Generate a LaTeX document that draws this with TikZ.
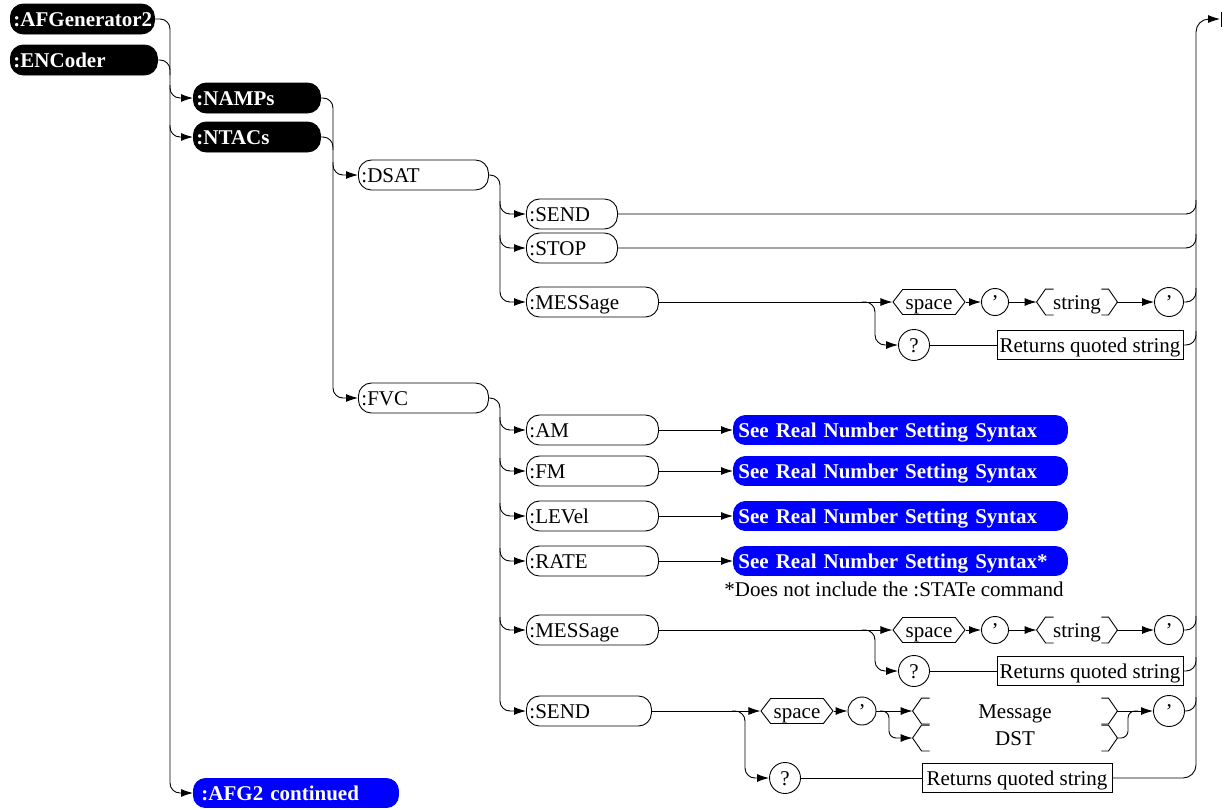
\documentclass[tikz,border=0pt]{standalone}
\usepackage{fontspec}
\setmainfont{Liberation Serif}
\usetikzlibrary{arrows.meta,shapes.symbols,calc}
\definecolor{pblue}{RGB}{0,0,255}
\AtBeginDocument{\hyphenpenalty=10000 \exhyphenpenalty=10000}
\newcommand{\bkt}[1]{%
  \draw ($(#1.north west)+(17,0)$) -- ($(#1.north west)+(9,0)$) -- (#1.west) -- ($(#1.south west)+(9,0)$) -- ($(#1.south west)+(17,0)$);
  \draw ($(#1.north east)+(-16,0)$) -- ($(#1.north east)+(-9,0)$) -- (#1.east) -- ($(#1.south east)+(-9,0)$) -- ($(#1.south east)+(-16,0)$);}
\begin{document}
\begin{tikzpicture}[x=1pt,y=-1pt,line width=0.9pt,
  every node/.style={font=\fontsize{21}{24}\selectfont, text height=17pt, text depth=3pt, inner ysep=0pt},
  cmd/.style={draw, rounded corners=13pt, minimum height=30pt, inner xsep=3pt, text width=#1, align=left, anchor=west},
  blk/.style={cmd={#1}, fill=black, text=white, font=\fontsize{21}{24}\selectfont\bfseries},
  bl/.style={cmd={#1}, draw=pblue, fill=pblue, text=white, inner xsep=5pt, rounded corners=12pt, minimum height=29pt, font=\fontsize{21}{24}\selectfont\bfseries},
  hexa/.style={draw, shape=signal, signal to=west and east, signal pointer angle=105, minimum width=72pt, minimum height=25pt, inner xsep=0pt},
  circ/.style={draw, circle, minimum size=#1, inner sep=0pt},
  brk/.style={minimum width=#1, minimum height=25pt, inner sep=0pt},
  ret/.style={draw, minimum width=#1, minimum height=29pt, inner sep=0pt},
  arr/.style={-{Latex[length=12pt,width=8pt]}},
  ln/.style={rounded corners=10pt}]
\useasboundingbox (0,0) rectangle (1224,809);

% black command nodes
\node[blk=138] (afg) at (10,19) {:AFGenerator2};
\node[blk=141] (enc) at (10,60) {:ENCoder};
\node[blk=121] (namps) at (193,98) {:NAMPs};
\node[blk=121] (ntacs) at (193,137) {:NTACs};
\node[bl=189, inner xsep=8pt] (afgc) at (193,793) {:AFG2 continued};

% second level
\node[cmd=124] (dsat) at (358,175) {:DSAT};
\node[cmd=124] (fvc) at (358,398) {:FVC};

% DSAT children
\node[cmd=85] (send1) at (526,214) {:SEND};
\node[cmd=85] (stop) at (526,248) {:STOP};
\node[cmd=126] (mess1) at (526,302) {:MESSage};
\node[hexa] (space1) at (929,302) {space};
\node[circ=27] (q1a) at (995,302) {’};
\node[brk=80] (str1) at (1077,302) {string};
\bkt{str1}
\node[circ=29] (q1b) at (1169,302) {’};
\node[circ=31] (qm1) at (914,345) {?};
\node[ret=186] (ret1) at (1090,345) {Returns quoted string};

% FVC children
\node[cmd=126] (am) at (526,430) {:AM};
\node[cmd=126] (fm) at (526,471) {:FM};
\node[cmd=126] (lev) at (526,516) {:LEVel};
\node[cmd=126] (rate) at (526,561) {:RATE};
\node[bl=324] (amb) at (733,430) {See Real Number Setting Syntax};
\node[bl=324] (fmb) at (733,471) {See Real Number Setting Syntax};
\node[bl=324] (levb) at (733,516) {See Real Number Setting Syntax};
\node[bl=324] (rateb) at (733,561) {See Real Number Setting Syntax*};
\node[anchor=west, inner xsep=0pt] (note) at (724,589) {*Does not include the :STATe command};

\node[cmd=126] (mess2) at (526,630) {:MESSage};
\node[hexa] (space2) at (929,630) {space};
\node[circ=27] (q2a) at (995,630) {’};
\node[brk=80] (str2) at (1077,630) {string};
\bkt{str2}
\node[circ=29] (q2b) at (1169,630) {’};
\node[circ=31] (qm2) at (914,671) {?};
\node[ret=186] (ret2) at (1090,671) {Returns quoted string};

\node[cmd=119] (send2) at (526,711) {:SEND};
\node[hexa] (space3) at (797,711) {space};
\node[circ=28] (q3a) at (862,711) {’};
\node[brk=204] (msg) at (1015,711) {Message};
\bkt{msg}
\node[brk=204] (dst) at (1015,738) {DST};
\bkt{dst}
\node[circ=31] (q3b) at (1169,711) {’};
\node[circ=31] (qm3) at (785,778) {?};
\node[ret=190] (ret3) at (1017,778) {Returns quoted string};

% left trunk
\draw[ln,arr] (afg.east) -- (170,19) -- (170,793) -- (afgc.west);
\draw[ln] (enc.east) -- (170,60) -- (170,75);
\draw[ln,arr] (170,85) -- (170,98) -- (namps.west);
\draw[ln,arr] (170,125) -- (170,137) -- (ntacs.west);

% second trunk
\draw[ln,arr] (namps.east) -- (333,98) -- (333,398) -- (fvc.west);
\draw[ln] (ntacs.east) -- (333,137) -- (333,150);
\draw[ln,arr] (333,162) -- (333,175) -- (dsat.west);

% DSAT trunk
\draw[ln,arr] (dsat.east) -- (500,175) -- (500,302) -- (mess1.west);
\draw[ln,arr] (500,201) -- (500,214) -- (send1.west);
\draw[ln,arr] (500,235) -- (500,248) -- (stop.west);

% right trunk and exit
\coordinate (endp) at (1220,19);
\draw[rounded corners=13pt,arr] (ret3.east) -- (1196,778) -- (1196,19) -- (endp);
\draw (1221,12) -- (1221,27);
\draw[ln] (send1.east) -- (1196,214) -- (1196,200);
\draw[ln] (stop.east) -- (1196,248) -- (1196,234);

% DSAT MESSage row
\draw[arr] (mess1.east) -- (space1.west);
\draw[ln,arr] (862,302) -- (875,302) -- (875,345) -- (qm1.west);
\draw[arr] (space1.east) -- (q1a.west);
\draw[arr] (q1a.east) -- (str1.west);
\draw[arr] (str1.east) -- (q1b.west);
\draw[ln] (q1b.east) -- (1196,302) -- (1196,288);
\draw (qm1.east) -- (ret1.west);
\draw[ln] (ret1.east) -- (1196,345) -- (1196,331);

% FVC trunk
\draw[ln,arr] (fvc.east) -- (500,398) -- (500,711) -- (send2.west);
\foreach \n/\y in {am/430,fm/471,lev/516,rate/561,mess2/630}{
  \draw[ln,arr] (500,\y-13) -- (500,\y) -- (\n.west);
}
\draw[arr] (am.east) -- (amb.west);
\draw[arr] (fm.east) -- (fmb.west);
\draw[arr] (lev.east) -- (levb.west);
\draw[arr] (rate.east) -- (rateb.west);

% FVC MESSage row
\draw[arr] (mess2.east) -- (space2.west);
\draw[ln,arr] (862,630) -- (875,630) -- (875,671) -- (qm2.west);
\draw[arr] (space2.east) -- (q2a.west);
\draw[arr] (q2a.east) -- (str2.west);
\draw[arr] (str2.east) -- (q2b.west);
\draw[ln] (q2b.east) -- (1196,630) -- (1196,616);
\draw (qm2.east) -- (ret2.west);
\draw[ln] (ret2.east) -- (1196,671) -- (1196,657);

% FVC SEND row
\draw[arr] (send2.east) -- (space3.west);
\draw[ln,arr] (732,711) -- (745,711) -- (745,778) -- (qm3.west);
\draw[arr] (space3.east) -- (q3a.west);
\draw[arr] (q3a.east) -- (msg.west);
\draw[rounded corners=7pt,arr] (880,711) -- (889,711) -- (889,738) -- (dst.west);
\draw[arr] (msg.east) -- (q3b.west);
\draw[rounded corners=7pt] (dst.east) -- (1128,738) -- (1128,711) -- (1138,711);
\draw[ln] (q3b.east) -- (1196,711) -- (1196,697);
\draw (qm3.east) -- (ret3.west);
\end{tikzpicture}
\end{document}
